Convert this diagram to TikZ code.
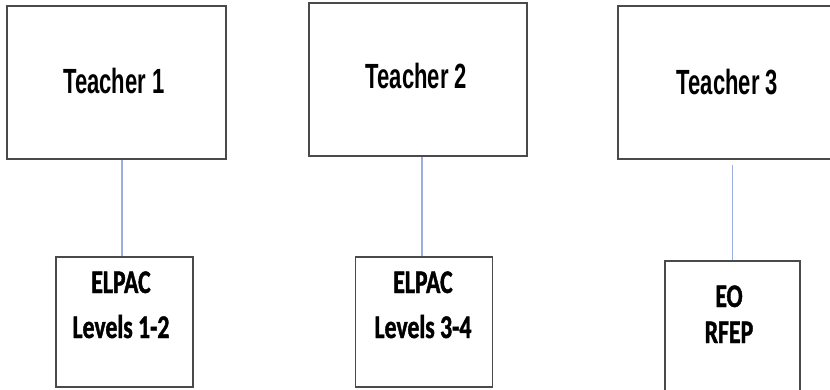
\documentclass[tikz,border=0pt]{standalone}
\usepackage{fontspec}
\newfontfamily\teacherfont[FakeStretch=0.63]{Liberation Sans}
\newfontfamily\levelfont[FakeStretch=0.72,FakeBold=1.2]{Carlito}
\definecolor{linkblue}{HTML}{9AAEE0}
\definecolor{boxgray}{HTML}{4A4A4A}
\begin{document}
\begin{tikzpicture}[x=1pt,y=-1pt,
  box/.style={draw=boxgray, line width=1.3pt, fill=white, inner sep=0pt},
  teacherlbl/.style={font=\teacherfont\bfseries\fontsize{35}{40}\selectfont, inner sep=0pt},
  levellbl/.style={font=\levelfont\bfseries\fontsize{33}{#1}\selectfont, align=center, inner sep=0pt},
  link/.style={draw=linkblue, line width=1.2pt}]
  \useasboundingbox (0,0) rectangle (830,389);
  \clip (0,0) rectangle (830,389);

  % upper row: teachers
  \node[box, minimum width=219pt, minimum height=153pt] (t1) at (116.5,82.5) {};
  \node[box, minimum width=218pt, minimum height=153pt] (t2) at (418,79.5) {};
  \node[box, minimum width=218pt, minimum height=153pt] (t3) at (727,82.5) {};
  \node[teacherlbl, anchor=base] (t1l) at (114,93) {Teacher 1};
  \node[teacherlbl, anchor=base] (t2l) at (416.5,88) {Teacher 2};
  \node[teacherlbl, anchor=base] (t3l) at (727.5,94) {Teacher 3};

  % lower row: student groups (anchored on the baseline of the last line)
  \node[box, minimum width=137pt, minimum height=130pt] (e1) at (124.5,322) {};
  \node[box, minimum width=137pt, minimum height=130pt] (e2) at (424,322) {};
  \node[box, minimum width=135pt, minimum height=140pt] (e3) at (732.5,331) {};
  \node[levellbl=45, anchor=base] (e1l) at (121,338) {ELPAC\\Levels 1-2};
  \node[levellbl=45, anchor=base] (e2l) at (423,338) {ELPAC\\Levels 3-4};
  \node[levellbl=36, anchor=base] (e3l) at (729,343) {EO\\RFEP};

  % connectors
  \draw[link] ([xshift=-2.5pt]e1.north) -- ([xshift=-2.5pt]e1.north |- t1.south);
  \draw[link] ([xshift=-2pt]e2.north) -- ([xshift=-2pt]e2.north |- t2.south);
  \draw[link, shorten >=5pt] (e3.north) -- (e3.north |- t3.south);
\end{tikzpicture}
\end{document}
